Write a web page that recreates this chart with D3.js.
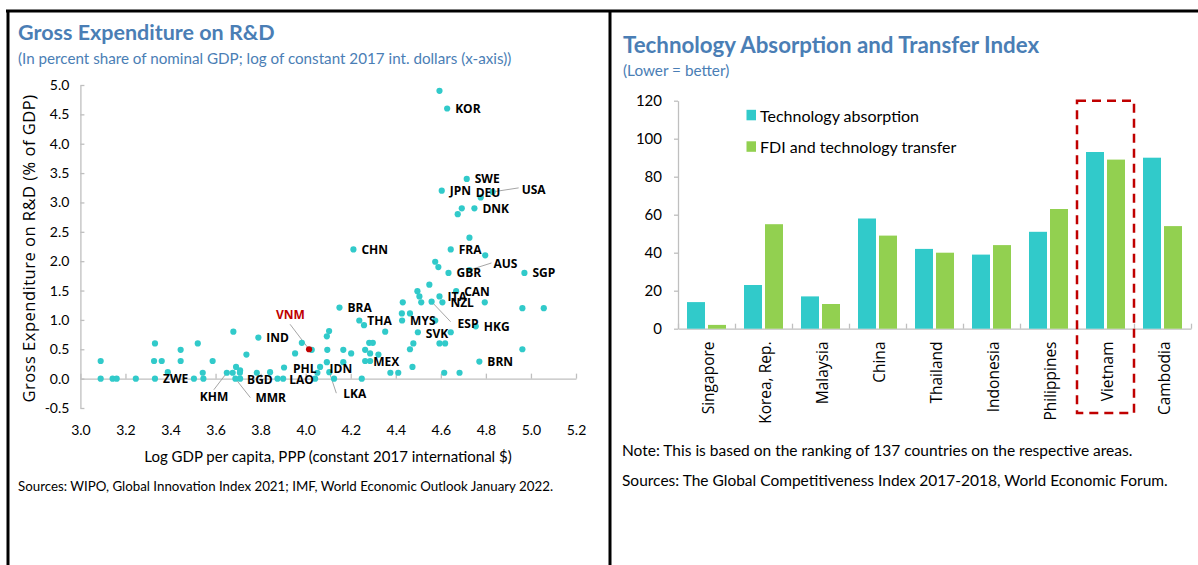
<!DOCTYPE html>
<html>
<head>
<meta charset="utf-8">
<script src="https://cdn.jsdelivr.net/npm/d3@7"></script>
<style>
  body { margin: 0; background: #fff; }
  svg text { font-family: Lato, "Open Sans", sans-serif; fill: #000; }
  .axis path, .axis line { stroke: #bfbfbf; stroke-width: 1.3; }
  .axis text { font-family: Lato, sans-serif; font-size: 14px; fill: #000; }
</style>
</head>
<body>
<div id="chart"></div>
<script>
// === data: left panel (log GDP per capita vs R&D share of GDP) ===
const labelled = [
  ["KOR", 4.628, 4.60], ["SWE", 4.715, 3.40], ["JPN", 4.604, 3.20], ["DEU", 4.777, 3.085],
  ["USA", 4.830, 3.18], ["DNK", 4.749, 2.90], ["CHN", 4.212, 2.20], ["FRA", 4.644, 2.20],
  ["AUS", 4.727, 1.85], ["GBR", 4.634, 1.80], ["SGP", 4.971, 1.80], ["CAN", 4.668, 1.49],
  ["ITA", 4.594, 1.40], ["NZL", 4.607, 1.30], ["ESP", 4.559, 1.31], ["MYS", 4.428, 0.99],
  ["BRA", 4.150, 1.21], ["THA", 4.238, 0.99], ["SVK", 4.498, 0.79], ["HKG", 4.755, 0.89],
  ["BRN", 4.771, 0.29], ["MEX", 4.264, 0.30], ["IND", 3.790, 0.70], ["VNM", 4.015, 0.50],
  ["PHL", 3.904, 0.19], ["IDN", 4.064, 0.20], ["LKA", 4.105, 0.11], ["LAO", 3.900, 0.00],
  ["BGD", 3.709, 0.00], ["MMR", 3.688, 0.00], ["KHM", 3.650, 0.10], ["ZWE", 3.331, 0.00]
];

const unlabelled = [
  [4.594, 4.90], [4.693, 2.90], [4.675, 2.80], [4.727, 2.40], [4.797, 2.10], [4.575, 1.99],
  [4.589, 1.90], [4.549, 1.60], [4.496, 1.49], [4.505, 1.40], [4.431, 1.30], [4.513, 1.30],
  [4.795, 1.30], [4.962, 1.20], [5.057, 1.20], [4.427, 1.11], [4.463, 1.11], [4.575, 0.99],
  [4.259, 0.91], [4.353, 0.80], [4.644, 0.79], [4.478, 0.60], [4.463, 0.50], [4.594, 0.60],
  [4.619, 0.60], [4.962, 0.50], [4.474, 0.20], [4.376, 0.10], [4.411, 0.10], [4.615, 0.10],
  [4.683, 0.10], [4.104, 0.81], [4.094, 0.72], [3.983, 0.61], [4.282, 0.61], [4.298, 0.61],
  [4.027, 0.49], [4.096, 0.49], [4.167, 0.49], [4.264, 0.49], [3.953, 0.43], [4.202, 0.43],
  [4.286, 0.43], [4.323, 0.41], [4.286, 0.30], [4.094, 0.28], [4.167, 0.28], [4.052, 0.10],
  [4.042, 0.00], [4.126, 0.00], [4.249, 0.00], [3.842, 0.11], [3.875, 0.00], [3.090, 0.30],
  [3.090, 0.00], [3.143, 0.00], [3.161, 0.00], [3.246, 0.00], [3.331, 0.60], [3.327, 0.30],
  [3.361, 0.30], [3.388, 0.11], [3.445, 0.49], [3.445, 0.30], [3.521, 0.60], [3.504, 0.00],
  [3.546, 0.00], [3.543, 0.10], [3.587, 0.30], [3.679, 0.80], [3.737, 0.41], [3.691, 0.20],
  [3.709, 0.14], [3.676, 0.10], [3.708, 0.10], [3.783, 0.10]
];

const xTicksL = [3.0, 3.2, 3.4, 3.6, 3.8, 4.0, 4.2, 4.4, 4.6, 4.8, 5.0, 5.2];
const yTicksL = [-0.5, 0.0, 0.5, 1.0, 1.5, 2.0, 2.5, 3.0, 3.5, 4.0, 4.5, 5.0];

// === data: right panel (rank out of 137, lower = better) ===
const countries   = ["Singapore", "Korea, Rep.", "Malaysia", "China", "Thailand",
                     "Indonesia", "Philippines", "Vietnam", "Cambodia"];
const absorption  = [14, 23, 17, 58, 42, 39, 51, 93, 90];
const fdiTransfer = [2, 55, 13, 49, 40, 44, 63, 89, 54];
const yTicksR     = [0, 20, 40, 60, 80, 100, 120];
const seriesNames = ["Technology absorption", "FDI and technology transfer"];

// label nudges in px: [dx, dy, leader end x, leader end y]
const labelNudge = {
  DEU: [-5, -4.6], USA: [29, -2.5, 26, -4], AUS: [24, -6, 22, -7], ESP: [26, 21.6, 19, 20],
  VNM: [-33, -35, -19, -25], KHM: [-27, 23.7, -13, 17], MMR: [20, 19, 15, 19],
  LKA: [14, 21.5, 7, 21], LAO: [6, 1], PHL: [9, 1], IDN: [9.5, 1.6], BGD: [7, 1], SVK: [8, 1.6]
};

const teal = "#31caca", green = "#92d050", titleBlue = "#4a7eb5", red = "#c00000";

const W = 1198, H = 565;
const svg = d3.select("#chart").append("svg").attr("width", W).attr("height", H);

// frame lines
svg.append("line").attr("x1", 6).attr("x2", W).attr("y1", 11).attr("y2", 11)
  .attr("stroke", "#000").attr("stroke-width", 3);
svg.append("line").attr("x1", 8).attr("x2", 8).attr("y1", 10).attr("y2", H)
  .attr("stroke", "#000").attr("stroke-width", 3);
svg.append("line").attr("x1", 610).attr("x2", 610).attr("y1", 10).attr("y2", H)
  .attr("stroke", "#000").attr("stroke-width", 3);

// ================= left: scatter =================
const x = d3.scaleLinear().domain([3.0, 5.2]).range([80.4, 576]);
const y = d3.scaleLinear().domain([-0.5, 5.0]).range([408, 85]);

svg.append("text").attr("x", 18).attr("y", 40)
  .style("font-size", "21.5px").style("font-weight", 700).style("fill", titleBlue)
  .text("Gross Expenditure on R&D");
svg.append("text").attr("x", 18).attr("y", 64)
  .style("font-size", "15.2px").style("fill", titleBlue)
  .text("(In percent share of nominal GDP; log of constant 2017 int. dollars (x-axis))");

svg.append("g").attr("class", "axis")
  .attr("transform", `translate(${x(3.0)},0)`)
  .call(d3.axisLeft(y).tickValues(yTicksL).tickFormat(d => d.toFixed(1))
    .tickSizeInner(-4).tickSizeOuter(0).tickPadding(11));

// zero line with inward ticks
svg.append("g").attr("class", "axis")
  .attr("transform", `translate(0,${y(0)})`)
  .call(d3.axisBottom(x).tickValues(xTicksL).tickFormat("")
    .tickSizeInner(-5).tickSizeOuter(0));

// x tick labels along the bottom
const xLab = svg.append("g").attr("class", "axis")
  .attr("transform", `translate(0,${y(-0.5)})`)
  .call(d3.axisBottom(x).tickValues(xTicksL).tickFormat(d => d.toFixed(1))
    .tickSize(0).tickPadding(17));
xLab.select(".domain").remove();

svg.append("text")
  .attr("transform", `translate(35,${(y(5) + y(-0.5)) / 2 + 2}) rotate(-90)`)
  .attr("text-anchor", "middle")
  .style("font-family", "'Open Sans', sans-serif").style("font-size", "16.5px")
  .style("letter-spacing", "0.5px")
  .text("Gross Expenditure on R&D (% of GDP)");

svg.append("text").attr("x", 328).attr("y", 462).attr("text-anchor", "middle")
  .style("font-size", "15px")
  .text("Log GDP per capita, PPP (constant 2017 international $)");

svg.append("text").attr("x", 18).attr("y", 491).style("font-size", "13.3px")
  .text("Sources: WIPO, Global Innovation Index 2021; IMF, World Economic Outlook January 2022.");

// leader lines
const leaders = labelled.filter(d => labelNudge[d[0]] && labelNudge[d[0]].length > 2);
svg.append("g").selectAll("line").data(leaders).join("line")
  .attr("x1", d => x(d[1])).attr("y1", d => y(d[2]))
  .attr("x2", d => x(d[1]) + labelNudge[d[0]][2])
  .attr("y2", d => y(d[2]) + labelNudge[d[0]][3])
  .attr("stroke", "#a6a6a6").attr("stroke-width", 1);

// dots
const dots = svg.append("g");
dots.selectAll("circle.other").data(unlabelled).join("circle")
  .attr("class", "other")
  .attr("cx", d => x(d[0])).attr("cy", d => y(d[1])).attr("r", 3.1)
  .attr("fill", teal);
dots.selectAll("circle.named").data(labelled).join("circle")
  .attr("class", "named")
  .attr("cx", d => x(d[1])).attr("cy", d => y(d[2])).attr("r", 3.1)
  .attr("fill", d => d[0] === "VNM" ? red : teal);

// labels
svg.append("g").selectAll("text").data(labelled).join("text")
  .attr("x", d => x(d[1]) + (labelNudge[d[0]] ? labelNudge[d[0]][0] : 8))
  .attr("y", d => y(d[2]) + (labelNudge[d[0]] ? labelNudge[d[0]][1] : 0))
  .attr("dominant-baseline", "central")
  .style("font-family", "'Open Sans', sans-serif")
  .style("font-size", "12px").style("font-weight", 700)
  .style("fill", d => d[0] === "VNM" ? red : "#000")
  .text(d => d[0]);

// ================= right: grouped bars =================
const xb = d3.scaleBand().domain(countries).range([678, 1191]).padding(0);
const idx = d3.scaleLinear().domain([0, countries.length]).range(xb.range());
const yb = d3.scaleLinear().domain([0, 120]).range([328.7, 100.7]);
const barW = 18, gap = 3;

svg.append("text").attr("x", 623).attr("y", 53)
  .style("font-size", "22.3px").style("font-weight", 700).style("fill", titleBlue)
  .text("Technology Absorption and Transfer Index");
svg.append("text").attr("x", 623).attr("y", 76)
  .style("font-size", "15.3px").style("fill", titleBlue)
  .text("(Lower = better)");

svg.append("g").attr("class", "axis")
  .attr("transform", `translate(${xb.range()[0]},0)`)
  .call(d3.axisLeft(yb).tickValues(yTicksR).tickSizeInner(4).tickSizeOuter(0).tickPadding(12))
  .selectAll("text").style("font-size", "15px");

svg.append("g").attr("class", "axis")
  .attr("transform", `translate(0,${yb(0)})`)
  .call(d3.axisBottom(idx).tickValues(d3.range(countries.length + 1)).tickFormat("")
    .tickSizeInner(-5).tickSizeOuter(0));

const groups = svg.append("g").selectAll("g").data(countries).join("g")
  .attr("transform", d => `translate(${xb(d) + xb.bandwidth() / 2},0)`);
groups.append("rect")
  .attr("x", -barW - gap / 2).attr("width", barW)
  .attr("y", (d, i) => yb(absorption[i])).attr("height", (d, i) => yb(0) - yb(absorption[i]))
  .attr("fill", teal);
groups.append("rect")
  .attr("x", gap / 2).attr("width", barW)
  .attr("y", (d, i) => yb(fdiTransfer[i])).attr("height", (d, i) => yb(0) - yb(fdiTransfer[i]))
  .attr("fill", green);

groups.append("text")
  .attr("transform", "translate(1,341.5) rotate(-90)")
  .attr("text-anchor", "end").attr("dominant-baseline", "central")
  .style("font-family", "'Open Sans', sans-serif").style("font-size", "15.5px")
  .text(d => d);

// legend
const legend = svg.append("g").selectAll("g").data(seriesNames).join("g")
  .attr("transform", (d, i) => `translate(746.5,${115 + i * 31.5})`);
legend.append("rect").attr("x", 0).attr("y", -5.2).attr("width", 9.5).attr("height", 10.5)
  .attr("fill", (d, i) => i === 0 ? teal : green);
legend.append("text").attr("x", 13.5).attr("y", 0).attr("dominant-baseline", "central")
  .style("font-size", "16px").text(d => d);

// highlight box round Vietnam
svg.append("rect")
  .attr("x", xb("Vietnam")).attr("y", yb(120))
  .attr("width", xb.bandwidth()).attr("height", 413 - yb(120))
  .attr("fill", "none").attr("stroke", red).attr("stroke-width", 2.5)
  .attr("stroke-dasharray", "9,6");

svg.append("text").attr("x", 622).attr("y", 456).style("font-size", "15.5px")
  .text("Note: This is based on the ranking of 137 countries on the respective areas.");
svg.append("text").attr("x", 622).attr("y", 486).style("font-size", "15.5px")
  .text("Sources: The Global Competitiveness Index 2017-2018, World Economic Forum.");
</script>
</body>
</html>
